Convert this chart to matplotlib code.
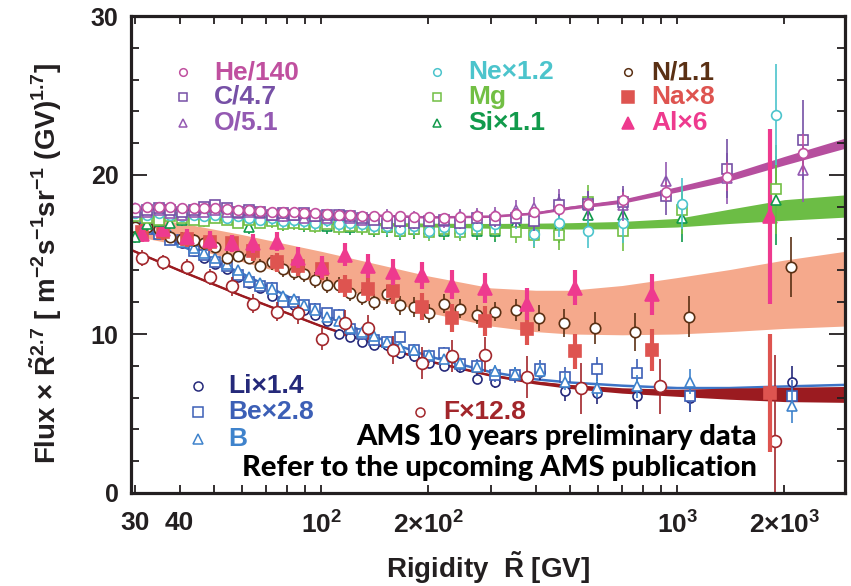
import matplotlib
matplotlib.use("Agg")
import matplotlib.pyplot as plt
from matplotlib import font_manager as fm
from matplotlib.ticker import FixedLocator, MultipleLocator, NullFormatter

# ---------------------------------------------------------------- fonts
_names = {f.name for f in fm.fontManager.ttflist}
NARROW = "Liberation Sans Narrow" if "Liberation Sans Narrow" in _names else "Liberation Sans"
SANS = "Liberation Sans"
NOTE = "Lato" if "Lato" in _names else "Open Sans"

plt.rcParams["mathtext.fontset"] = "custom"
plt.rcParams["mathtext.rm"] = NARROW + ":bold"
plt.rcParams["mathtext.bf"] = SANS + ":bold"
plt.rcParams["mathtext.it"] = NARROW + ":bold"

# ---------------------------------------------------------------- data
# rigidity bins (GV)
R_low = [30.0, 32.4, 34.9, 37.7, 40.6, 43.8, 46.9, 50.4, 54.3, 58.2, 62.5, 67.4,
         72.7, 78.0, 83.6, 89.6, 96.2, 103.7, 111.8, 120.6, 130.1, 140.3, 152.9,
         166.7, 181.6, 200.1, 220.6, 245.7, 273.8]
R_heco = R_low + [308, 353, 397, 466, 562, 705, 931, 1381, 2259]
R_nemgsi = R_low + [308, 353, 397, 466, 562, 705, 1033, 1900]
R_libeb = R_low + [308, 350, 412, 485, 596, 770, 1087, 2100]
R_n = R_low + [308, 353, 409, 482, 588, 762, 1079, 2086]
R_f = [31.4, 36.0, 42.0, 48.8, 56.2, 64.4, 75.2, 86.2, 100.6, 116.8, 135.5,
       159.3, 192, 233.4, 288.8, 379, 537, 895, 1884]
R_naal = [31.4, 36.0, 42.0, 48.8, 56.2, 64.4, 75.2, 86.2, 100.6, 116.8, 135.5,
          159.3, 192, 233.4, 288.8, 379, 515, 852, 1824]

# scaled flux x R^2.7
he = [17.9, 18.0, 18.0, 18.0, 17.9, 17.9, 17.9, 17.9, 17.85, 17.8, 17.8, 17.75,
      17.7, 17.7, 17.65, 17.6, 17.6, 17.55, 17.5, 17.5, 17.45, 17.4, 17.4, 17.4,
      17.35, 17.35, 17.3, 17.35, 17.4, 17.45, 17.55, 17.7, 17.85, 18.15, 18.4,
      18.95, 19.9, 21.4]
he_err = [0.12] * 29 + [0.2, 0.25, 0.3, 0.35, 0.4, 0.5, 0.6, 0.9, 1.2]
c = [17.7, 17.8, 17.9, 17.8, 17.7, 17.8, 18.0, 18.1, 17.9, 17.7, 17.8, 17.7, 17.5,
     17.6, 17.5, 17.6, 17.4, 17.5, 17.5, 17.4, 17.3, 17.2, 17.0, 17.1, 17.0, 17.1,
     17.2, 17.0, 17.3, 17.2, 17.3, 17.1, 18.1, 18.2, 18.3, 18.7, 20.4, 22.2]
c_err = [0.3] * 12 + [0.35] * 10 + [0.4] * 7 + [0.5, 0.6, 0.6, 0.7, 0.8, 1.0, 1.2, 1.85, 2.5]
o = [17.9, 17.7, 17.8, 17.6, 17.5, 17.7, 17.7, 17.8, 17.7, 17.6, 17.7, 17.6, 17.5,
     17.4, 17.5, 17.3, 17.4, 17.3, 17.5, 17.3, 17.2, 17.3, 17.4, 17.1, 17.3, 17.2,
     17.1, 17.4, 17.5, 17.5, 17.8, 17.9, 18.3, 18.1, 18.1, 19.6, 19.8, 20.3]
o_err = [0.3] * 12 + [0.35] * 10 + [0.45] * 7 + [0.5, 0.6, 0.7, 0.8, 0.9, 1.0, 1.2, 1.6, 2.0]

ne = [17.6, 17.5, 17.6, 17.5, 17.4, 17.5, 17.4, 17.5, 17.3, 17.4, 17.3, 17.2, 17.3,
      17.1, 17.2, 17.1, 17.0, 17.2, 16.9, 17.0, 16.9, 16.8, 16.8, 16.6, 16.8, 16.5,
      16.7, 16.6, 16.8, 16.9, 17.3, 16.3, 17.0, 16.5, 17.0, 18.2, 23.8]
ne_err = [0.35] * 12 + [0.45] * 10 + [0.55] * 7 + [0.6, 0.7, 0.8, 0.9, 1.1, 1.3, 1.6, 3.2]
mg = [17.4, 17.3, 17.2, 17.4, 17.3, 17.2, 17.1, 17.3, 17.2, 17.0, 17.2, 17.0, 17.1,
      16.9, 17.0, 16.9, 16.8, 16.9, 16.7, 16.8, 16.7, 16.6, 16.7, 16.5, 16.6, 16.4,
      16.6, 16.4, 16.6, 16.6, 16.4, 16.2, 16.2, 18.3, 16.5, 17.8, 19.1]
mg_err = [0.35] * 12 + [0.45] * 10 + [0.55] * 7 + [0.6, 0.7, 0.8, 0.9, 1.1, 1.3, 1.5, 2.8]
si = [16.1, 16.9, 17.1, 17.0, 17.2, 17.4, 17.4, 17.5, 17.3, 17.2, 16.7, 17.3, 17.2,
      17.0, 17.1, 16.9, 17.0, 16.8, 16.9, 16.7, 16.8, 16.6, 16.7, 16.5, 16.6, 16.6,
      16.5, 16.6, 16.5, 16.5, 17.0, 17.2, 16.7, 17.5, 17.5, 17.3, 18.4]
si_err = [0.4] * 12 + [0.5] * 10 + [0.6] * 7 + [0.7, 0.8, 0.9, 1.0, 1.2, 1.4, 1.5, 2.8]

n = [16.7, 16.7, 16.6, 16.1, 16.0, 15.9, 15.7, 15.5, 14.8, 14.9, 14.8, 14.3, 14.5,
     14.1, 13.9, 13.8, 13.4, 13.1, 13.1, 12.6, 12.3, 12.0, 12.5, 11.8, 11.7, 11.3,
     11.9, 11.6, 11.2, 11.4, 11.5, 11.0, 10.7, 10.4, 10.1, 11.1, 14.2]
n_err = [0.4] * 12 + [0.5] * 10 + [0.6] * 7 + [0.6, 0.7, 0.8, 0.9, 1.0, 1.2, 1.3, 1.9]

li = [16.9, 16.8, 16.5, 16.0, 15.7, 15.2, 14.8, 14.4, 14.1, 13.6, 13.2, 12.9, 12.4,
      12.0, 11.8, 11.5, 11.2, 10.8, 10.0, 9.8, 9.5, 9.3, 9.3, 8.8, 8.6, 8.2, 8.0,
      7.9, 7.2, 7.0, 7.4, 7.6, 6.4, 6.3, 6.1, 6.0, 7.0]
li_err = [0.25] * 12 + [0.3] * 10 + [0.35] * 7 + [0.4, 0.45, 0.5, 0.6, 0.7, 0.8, 0.9, 1.0]
be = [17.1, 16.6, 16.3, 15.9, 15.9, 15.2, 15.0, 14.5, 14.3, 13.7, 13.3, 13.0, 12.9,
      12.0, 12.0, 11.8, 11.6, 11.3, 11.2, 10.3, 10.0, 9.6, 9.5, 9.8, 9.0, 8.6, 8.8,
      8.1, 8.0, 7.4, 7.4, 7.8, 7.3, 7.8, 7.55, 6.1, 6.1]
be_err = [0.3] * 12 + [0.35] * 10 + [0.4] * 7 + [0.45, 0.5, 0.55, 0.65, 0.75, 0.85, 0.95, 1.0]
b = [17.0, 16.7, 16.6, 16.2, 15.8, 15.4, 15.1, 14.8, 14.4, 14.0, 13.6, 13.2, 12.8,
     12.4, 12.2, 11.8, 11.5, 11.1, 10.8, 10.4, 10.1, 9.9, 9.5, 9.2, 9.0, 8.7, 8.4,
     8.2, 7.9, 7.7, 7.5, 7.7, 7.0, 6.6, 6.7, 7.0, 5.5]
b_err = [0.2] * 12 + [0.25] * 10 + [0.3] * 7 + [0.35, 0.4, 0.45, 0.55, 0.65, 0.75, 0.8, 1.1]

f = [14.8, 14.5, 14.2, 13.6, 13.0, 11.9, 11.4, 11.3, 9.7, 10.7, 10.4, 9.0, 8.2,
     8.6, 8.7, 7.3, 6.6, 6.7, 3.3]
f_err = [0.5, 0.5, 0.5, 0.5, 0.6, 0.6, 0.6, 0.7, 0.7, 0.8, 0.8, 0.9, 1.0, 1.0,
         1.1, 1.3, 1.6, 1.7, 5.4]
na = [16.4, 16.4, 16.0, 15.8, 15.7, 15.2, 14.5, 14.3, 14.1, 13.0, 12.8, 12.7, 11.7,
      11.0, 10.8, 10.3, 8.9, 9.0, 6.3]
na_err = [0.5, 0.5, 0.5, 0.55, 0.55, 0.6, 0.6, 0.65, 0.7, 0.7, 0.75, 0.8, 0.85,
          0.9, 0.95, 1.0, 1.1, 1.3, 3.7]
al = [16.3, 16.6, 16.1, 15.9, 15.7, 15.7, 15.8, 14.8, 14.2, 15.0, 14.3, 13.9, 13.7,
      13.1, 12.9, 11.9, 12.9, 12.5, 17.4]
al_err = [0.5, 0.5, 0.5, 0.55, 0.55, 0.6, 0.6, 0.65, 0.7, 0.7, 0.75, 0.8, 0.85,
          0.9, 0.95, 1.0, 1.1, 1.3, 5.5]

# model curves / bands, sampled at fixed rigidities
R_band = [29.2, 40, 60, 100, 150, 200, 300, 400, 500, 700, 1000, 1400, 2000, 2960]
heco_mid = [17.9, 17.85, 17.7, 17.55, 17.45, 17.35, 17.4, 17.6, 17.95, 18.35, 19.1, 19.85, 20.9, 22.0]
heco_hw = [0.07, 0.07, 0.07, 0.07, 0.07, 0.07, 0.07, 0.08, 0.1, 0.13, 0.17, 0.22, 0.27, 0.32]
nemgsi_mid = [17.4, 17.35, 17.2, 17.0, 16.9, 16.85, 16.8, 16.8, 16.8, 16.85, 17.0, 17.4, 17.8, 18.05]
nemgsi_hw = [0.1, 0.1, 0.1, 0.1, 0.1, 0.12, 0.15, 0.17, 0.2, 0.23, 0.27, 0.45, 0.65, 0.7]
nnaal_lo = [16.2, 15.6, 14.55, 13.2, 12.1, 11.35, 10.5, 10.15, 10.0, 9.95, 10.0, 10.15, 10.35, 10.5]
nnaal_hi = [17.4, 17.0, 16.25, 15.2, 14.3, 13.65, 12.9, 12.75, 12.75, 13.05, 13.55, 14.05, 14.65, 15.2]
libeb_mid = [16.9, 15.6, 13.8, 11.3, 9.6, 8.6, 7.6, 7.15, 6.95, 6.75, 6.6, 6.6, 6.7, 6.8]
f_mid = [15.3, 14.0, 12.4, 10.5, 9.2, 8.3, 7.4, 6.95, 6.7, 6.45, 6.3, 6.25, 6.2, 6.2]
f_hw = [0.07, 0.07, 0.07, 0.07, 0.07, 0.07, 0.07, 0.1, 0.13, 0.17, 0.22, 0.35, 0.45, 0.5]

x_ticks = [30, 40, 100, 200, 1000, 2000]
x_ticklabels = ["30", "40", r"$10^{2}$", r"$2{\times}10^{2}$", r"$10^{3}$", r"$2{\times}10^{3}$"]
y_ticks = [0, 10, 20, 30]

# ---------------------------------------------------------------- colours
COL = {
    "He": "#c0509f", "C": "#7650a6", "O": "#9459b2",
    "Ne": "#4cc4cc", "Mg": "#72bf44", "Si": "#119a4b",
    "N": "#5a3014", "Na": "#de5450", "Al": "#ee3a8e",
    "Li": "#25297a", "Be": "#3c5fb6", "B": "#3f83cc", "F": "#a2262b",
}
BAND_HECO = "#b64f9e"
BAND_NEMGSI = "#6cbd45"
BAND_NNAAL = "#f5a98c"
LINE_LIBEB = "#3d74c6"
BAND_F = "#9b1b20"

# ---------------------------------------------------------------- figure
W, H = 851, 586
fig = plt.figure(figsize=(W / 100, H / 100), dpi=100)
AX_L, AX_R, AX_T, AX_B = 131, 845, 16, 493
ax = fig.add_axes([AX_L / W, 1 - AX_B / H, (AX_R - AX_L) / W, (AX_B - AX_T) / H])
ax.set_xscale("log")
ax.set_xlim(29.2, 2960)
ax.set_ylim(0, 30)


def fx(px):
    return px / W


def fy(py):
    return 1 - py / H


# bands and model curves
ax.fill_between(R_band, nnaal_lo, nnaal_hi, color=BAND_NNAAL, lw=0, zorder=1)
ax.fill_between(R_band, [m - h for m, h in zip(nemgsi_mid, nemgsi_hw)],
                [m + h for m, h in zip(nemgsi_mid, nemgsi_hw)], color=BAND_NEMGSI, lw=0, zorder=1.2)
ax.plot(R_band, nemgsi_mid, color=BAND_NEMGSI, lw=1.6, zorder=1.2)
ax.fill_between(R_band, [m - h for m, h in zip(heco_mid, heco_hw)],
                [m + h for m, h in zip(heco_mid, heco_hw)], color=BAND_HECO, lw=0, zorder=1.3)
ax.plot(R_band, heco_mid, color=BAND_HECO, lw=1.3, zorder=1.3)
ax.plot(R_band, libeb_mid, color=LINE_LIBEB, lw=1.8, zorder=1.4)
ax.fill_between(R_band, [m - h for m, h in zip(f_mid, f_hw)],
                [m + h for m, h in zip(f_mid, f_hw)], color=BAND_F, lw=0, zorder=1.5)
ax.plot(R_band, f_mid, color=BAND_F, lw=1.5, zorder=1.5)


def series(x, y, e, key, marker, filled=False, ms=7.0, elw=1.2, z=3):
    col = COL[key]
    ax.errorbar(x, y, yerr=e, fmt=marker, color=col, ecolor=col,
                mfc=col if filled else "white", mec=col, ms=ms, mew=1.2,
                elinewidth=elw, capsize=0, zorder=z)


series(R_libeb, li, li_err, "Li", "o", ms=6.5, z=3.0)
series(R_libeb, be, be_err, "Be", "s", ms=6.5, z=3.1)
series(R_libeb, b, b_err, "B", "^", ms=7, z=3.2)
series(R_f, f, f_err, "F", "o", ms=8.5, z=3.3)
series(R_n, n, n_err, "N", "o", ms=7.5, z=3.4)
series(R_naal, na, na_err, "Na", "s", filled=True, ms=8, elw=3.0, z=3.5)
series(R_naal, al, al_err, "Al", "^", filled=True, ms=9.5, elw=3.0, z=3.6)
series(R_nemgsi, si, si_err, "Si", "^", ms=7, z=3.7)
series(R_nemgsi, mg, mg_err, "Mg", "s", ms=6.5, z=3.8)
series(R_nemgsi, ne, ne_err, "Ne", "o", ms=7, z=3.9)
series(R_heco, o, o_err, "O", "^", ms=7, z=4.0)
series(R_heco, c, c_err, "C", "s", ms=6.5, z=4.1)
series(R_heco, he, he_err, "He", "o", ms=7, z=4.2)

# ---------------------------------------------------------------- axes styling
for s in ax.spines.values():
    s.set_linewidth(2.3)
    s.set_color("#231f20")
    s.set_zorder(10)

ax.xaxis.set_major_locator(FixedLocator(x_ticks))
ax.set_xticklabels(x_ticklabels)
minor_x = [m * 10 ** d for d in (1, 2, 3) for m in range(2, 10)
           if 29.2 < m * 10 ** d < 2960 and m * 10 ** d not in x_ticks]
ax.xaxis.set_minor_locator(FixedLocator(minor_x))
ax.xaxis.set_minor_formatter(NullFormatter())
ax.yaxis.set_major_locator(FixedLocator(y_ticks))
ax.yaxis.set_minor_locator(MultipleLocator(2))

ax.tick_params(axis="both", which="both", direction="in", top=True, right=True,
               color="#231f20", width=1.3)
ax.tick_params(axis="x", which="both", length=5.5, pad=13)
ax.tick_params(axis="y", which="major", length=11.5, pad=9)
ax.tick_params(axis="y", which="minor", length=6)

for lbl in ax.get_xticklabels():
    lbl.set_fontfamily(NARROW)
    lbl.set_fontweight("bold")
    lbl.set_fontsize(19)
    lbl.set_color("#231f20")
for lbl in ax.get_yticklabels():
    lbl.set_fontfamily(SANS)
    lbl.set_fontweight("bold")
    lbl.set_fontsize(18)
    lbl.set_color("#231f20")

# axis titles
fig.text(fx(46), fy(263),
         r"Flux $\times$ $\tilde{\mathbf{R}}^{\mathbf{2.7}}$ [ m$^{\mathbf{-2}}$s$^{\mathbf{-1}}$"
         r"sr$^{\mathbf{-1}}$ (GV)$^{\mathbf{1.7}}$]",
         rotation=90, ha="center", va="center", fontsize=20, fontweight="bold",
         family=SANS, color="#231f20")
fig.text(fx(488), fy(568), r"Rigidity  $\tilde{\mathrm{R}}$ [GV]", ha="center", va="center",
         fontsize=20, fontweight="bold", family=NARROW, color="#231f20")

# ---------------------------------------------------------------- legends
legend_top = [
    ("He", "o", "He/140", 183, 72), ("C", "s", "C/4.7", 183, 97), ("O", "^", "O/5.1", 183, 123),
    ("Ne", "o", "Ne\u00d71.2", 437, 72), ("Mg", "s", "Mg", 437, 97), ("Si", "^", "Si\u00d71.1", 437, 123),
    ("N", "o", "N/1.1", 628, 72), ("Na", "s", "Na\u00d78", 628, 97), ("Al", "^", "Al\u00d76", 628, 123),
]
legend_bottom = [
    ("Li", "o", "Li\u00d71.4", 198, 386), ("Be", "s", "Be\u00d72.8", 198, 412),
    ("B", "^", "B", 198, 439), ("F", "o", "F\u00d712.8", 420, 412),
]
for key, mk, text, px, py in legend_top + legend_bottom:
    filled = key in ("Na", "Al")
    size = {"Na": 8, "Al": 9}.get(key, 5.5)
    if key in ("Li", "Be", "B", "F"):
        size = 6.5
    ax.plot([fx(px)], [fy(py)], marker=mk, ms=size, mew=1.1, mec=COL[key],
            mfc=COL[key] if filled else "white", transform=fig.transFigure,
            clip_on=False, zorder=6)
    gap = 30 if key in ("Li", "Be", "B") else (23 if key in ("N", "Na", "Al", "F") else 31)
    fig.text(fx(px + gap), fy(py), text, ha="left", va="center", fontsize=19,
             fontweight="bold", family=NARROW, color=COL[key], zorder=6)

# ---------------------------------------------------------------- note
fig.text(fx(757), fy(437), "AMS 10 years preliminary data", ha="right", va="center",
         fontsize=21, fontweight="black", family=NOTE, color="black")
fig.text(fx(757), fy(468), "Refer to the upcoming AMS publication", ha="right", va="center",
         fontsize=21, fontweight="black", family=NOTE, color="black")

fig.savefig("out.png", dpi=100)
